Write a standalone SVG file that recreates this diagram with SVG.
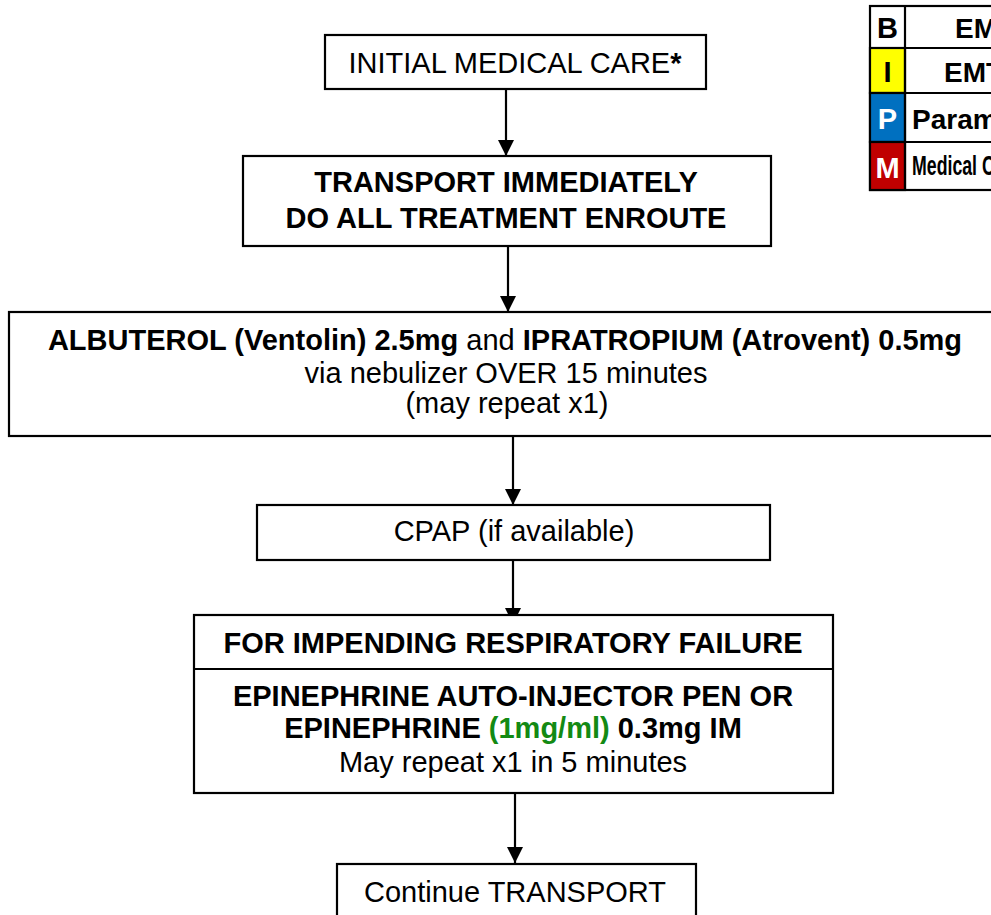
<svg xmlns="http://www.w3.org/2000/svg" width="991" height="915" viewBox="0 0 991 915">
  <defs>
    <marker id="arrow" markerUnits="userSpaceOnUse" markerWidth="16" markerHeight="16" viewBox="0 0 16 16" refX="16" refY="8" orient="auto">
      <path d="M0,0 L16,8 L0,16 Z" fill="#000"/>
    </marker>
    <style>
      .box { fill: #fff; stroke: #000; stroke-width: 2.2; }
      .conn { stroke: #000; stroke-width: 2.2; fill: none; marker-end: url(#arrow); }
      .t { font-family: "Liberation Sans", Arial, sans-serif; font-size: 29px; fill: #000; text-anchor: middle; }
      .b { font-weight: bold; }
      .green { fill: #138a13; }
      .leg { stroke: #000; stroke-width: 2.2; }
      .legl { font-family: "Liberation Sans", Arial, sans-serif; font-weight: bold; font-size: 29px; text-anchor: middle; }
      .legt { font-family: "Liberation Sans", Arial, sans-serif; font-weight: bold; font-size: 28px; fill: #000; }
    </style>
  </defs>

  <rect width="991" height="915" fill="#fff"/>

  <!-- connectors -->
  <g id="connectors">
    <line class="conn" x1="506" y1="89" x2="506" y2="156"/>
    <line class="conn" x1="508" y1="246" x2="508" y2="312"/>
    <line class="conn" x1="513" y1="436" x2="513" y2="505"/>
    <line class="conn" x1="513" y1="560" x2="513" y2="624"/>
    <line class="conn" x1="515" y1="793" x2="515" y2="863"/>
  </g>

  <g id="initial-care">
    <rect class="box" x="325" y="35" width="381" height="54"/>
    <text class="t" x="515" y="73">INITIAL MEDICAL CARE<tspan class="b">*</tspan></text>
  </g>

  <g id="transport">
    <rect class="box" x="243" y="156" width="528" height="90"/>
    <text class="t b" x="506" y="192">TRANSPORT IMMEDIATELY</text>
    <text class="t b" x="506" y="228">DO ALL TREATMENT ENROUTE</text>
  </g>

  <g id="nebulizer">
    <rect class="box" x="9" y="312" width="1000" height="124"/>
    <text class="t" x="505" y="350" font-size="29.3"><tspan class="b">ALBUTEROL (Ventolin) 2.5mg</tspan> and <tspan class="b">IPRATROPIUM (Atrovent) 0.5mg</tspan></text>
    <text class="t" x="506" y="383">via nebulizer OVER 15 minutes</text>
    <text class="t" x="507" y="413">(may repeat x1)</text>
  </g>

  <g id="cpap">
    <rect class="box" x="257" y="505" width="513" height="55"/>
    <text class="t" x="514" y="541">CPAP (if available)</text>
  </g>

  <g id="respiratory-failure">
    <rect class="box" x="194" y="615" width="639" height="178"/>
    <line class="leg" x1="194" y1="669" x2="833" y2="669"/>
    <text class="t b" x="513" y="653">FOR IMPENDING RESPIRATORY FAILURE</text>
    <text class="t b" x="513" y="706">EPINEPHRINE AUTO-INJECTOR PEN OR</text>
    <text class="t b" x="513" y="738">EPINEPHRINE <tspan class="green">(1mg/ml)</tspan> 0.3mg IM</text>
    <text class="t" x="513" y="772" font-size="30.5">May repeat x1 in 5 minutes</text>
  </g>

  <g id="continue-transport">
    <rect class="box" x="337" y="864" width="359" height="70"/>
    <text class="t" x="515" y="902">Continue TRANSPORT</text>
  </g>

  <!-- provider level legend -->
  <g id="legend">
    <rect x="870" y="6" width="140" height="184" fill="#fff" class="leg"/>
    <rect x="870" y="48" width="35" height="45" fill="#ffff00" class="leg"/>
    <rect x="870" y="93" width="35" height="49" fill="#0070c0" class="leg"/>
    <rect x="870" y="142" width="35" height="48" fill="#c00000" class="leg"/>
    <line class="leg" x1="905" y1="6" x2="905" y2="190"/>
    <line class="leg" x1="870" y1="48" x2="1010" y2="48"/>
    <line class="leg" x1="870" y1="93" x2="1010" y2="93"/>
    <line class="leg" x1="870" y1="142" x2="1010" y2="142"/>
    <text class="legl" x="887.5" y="38" fill="#000">B</text>
    <text class="legl" x="887.5" y="82" fill="#000">I</text>
    <text class="legl" x="887.5" y="129" fill="#fff">P</text>
    <text class="legl" x="887.5" y="178" fill="#fff" font-size="32">M</text>
    <text class="legt" x="955" y="38">EMT</text>
    <text class="legt" x="944" y="82">EMT-I</text>
    <text class="legt" x="912" y="129">Paramedic</text>
    <text class="legt" x="912" y="175" font-size="20" textLength="133" lengthAdjust="spacingAndGlyphs">Medical Control</text>
  </g>
</svg>
